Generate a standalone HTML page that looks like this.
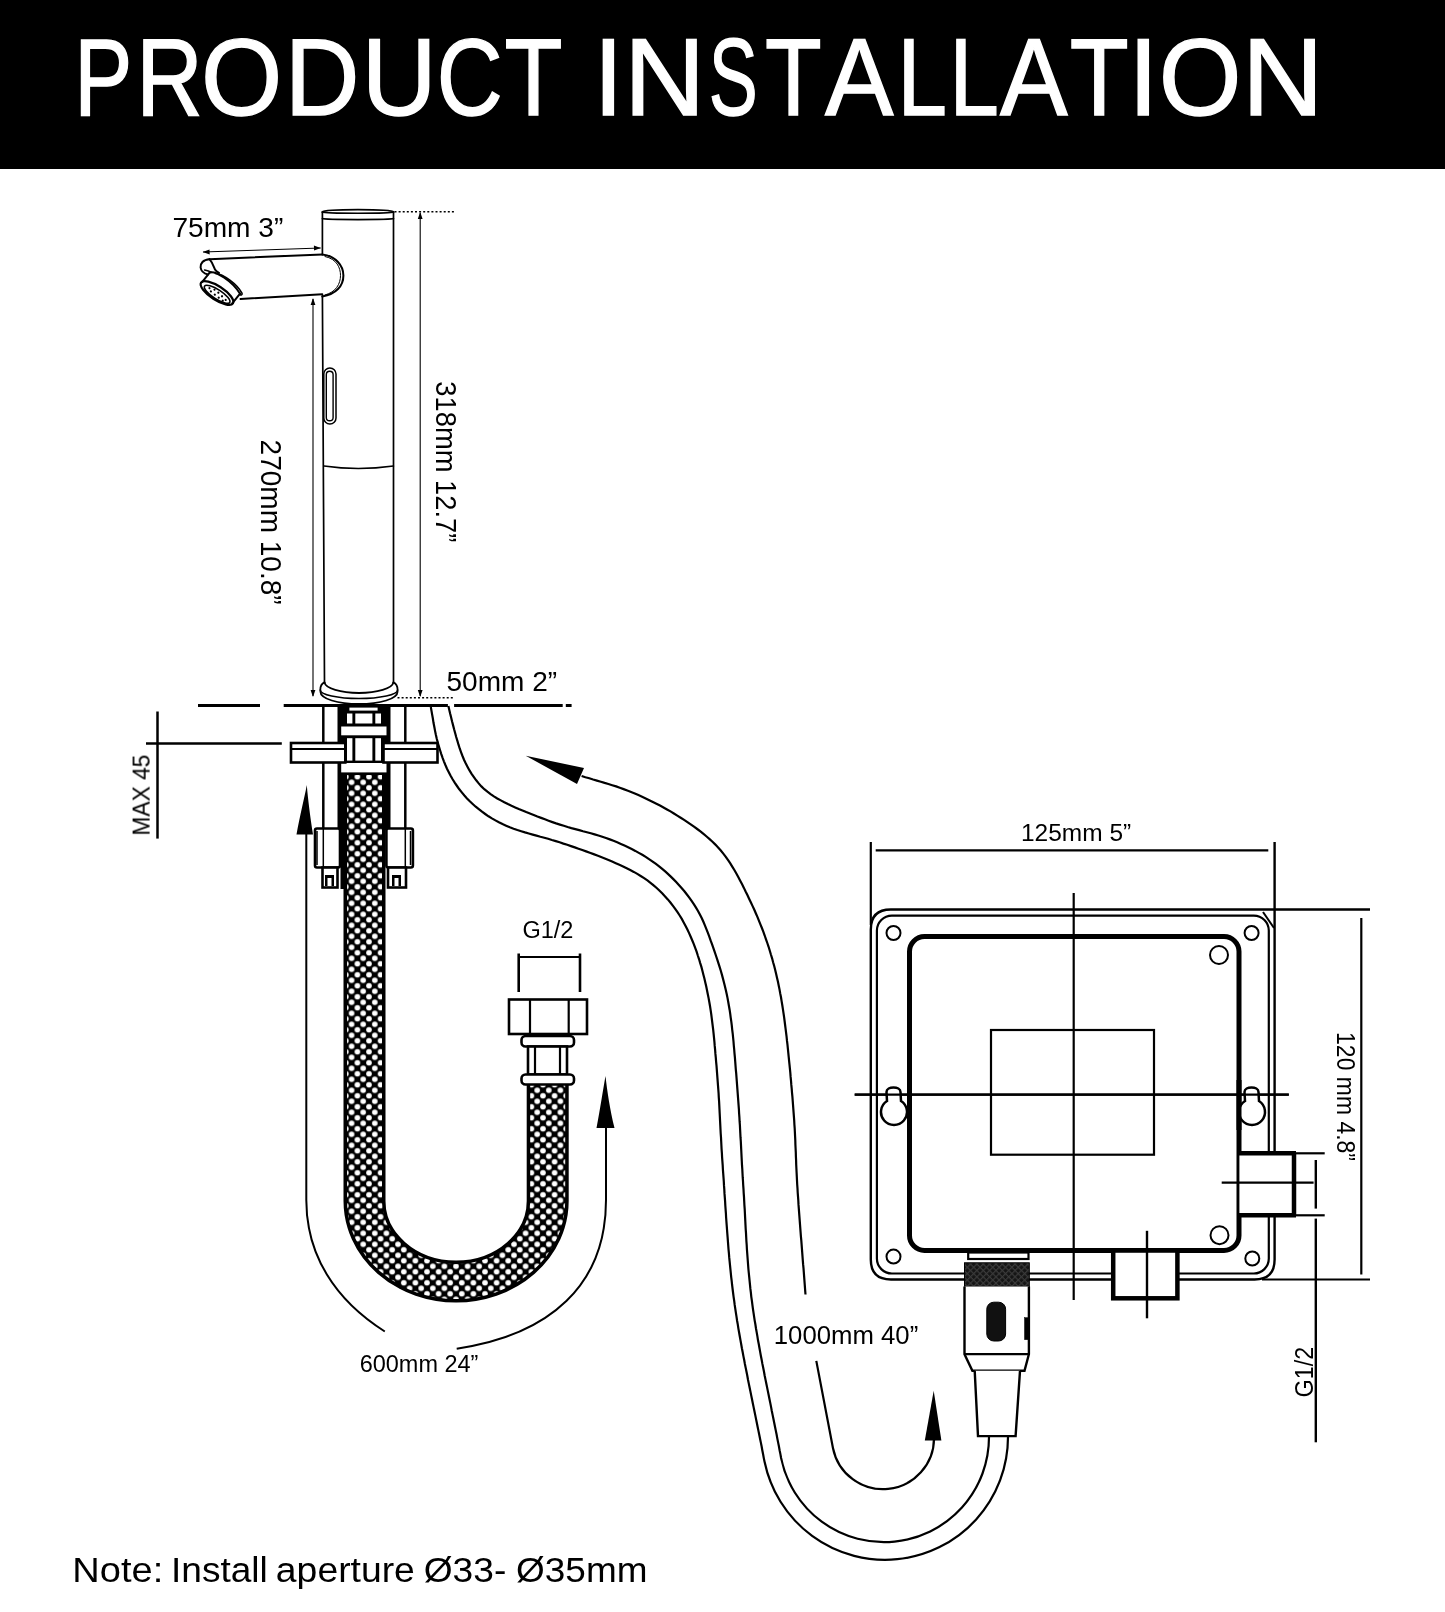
<!DOCTYPE html>
<html><head><meta charset="utf-8"><title>Product Installation</title>
<style>
html,body{margin:0;padding:0;background:#fff;width:1445px;height:1612px;overflow:hidden}
svg{display:block;will-change:transform}
text{font-family:"Liberation Sans",sans-serif;fill:#000}
</style></head><body>
<svg width="1445" height="1612" viewBox="0 0 1445 1612">
<defs>
<pattern id="braid" patternUnits="userSpaceOnUse" width="11.6" height="11" x="351.6" y="958.3">
<rect width="11.6" height="11" fill="#000"/>
<circle cx="0" cy="0" r="2.8" fill="#fff"/><circle cx="11.6" cy="0" r="2.8" fill="#fff"/>
<circle cx="0" cy="11" r="2.8" fill="#fff"/><circle cx="11.6" cy="11" r="2.8" fill="#fff"/>
<circle cx="5.8" cy="5.5" r="2.8" fill="#fff"/>
</pattern>
<pattern id="knurl" patternUnits="userSpaceOnUse" width="4.5" height="4.5" patternTransform="rotate(45)">
<rect width="4.5" height="4.5" fill="#151515"/><rect x="0" y="0" width="1.2" height="4.5" fill="#3a3a3a"/><rect x="0" y="0" width="4.5" height="1.2" fill="#3a3a3a"/>
</pattern>
</defs>

<!-- HEADER -->
<rect x="0" y="0" width="1445" height="169" fill="#000"/>
<g id="title" font-size="109.6"><text style="fill:#fff;stroke:#fff;stroke-width:1.4" x="74.36" y="115" textLength="58.02" lengthAdjust="spacingAndGlyphs">P</text><text style="fill:#fff;stroke:#fff;stroke-width:1.4" x="136.14" y="115" textLength="66.53" lengthAdjust="spacingAndGlyphs">R</text><text style="fill:#fff;stroke:#fff;stroke-width:1.4" x="201.05" y="115" textLength="81.25" lengthAdjust="spacingAndGlyphs">O</text><text style="fill:#fff;stroke:#fff;stroke-width:1.4" x="284.71" y="115" textLength="74.74" lengthAdjust="spacingAndGlyphs">D</text><text style="fill:#fff;stroke:#fff;stroke-width:1.4" x="361.70" y="115" textLength="74.90" lengthAdjust="spacingAndGlyphs">U</text><text style="fill:#fff;stroke:#fff;stroke-width:1.4" x="436.77" y="115" textLength="65.91" lengthAdjust="spacingAndGlyphs">C</text><text style="fill:#fff;stroke:#fff;stroke-width:1.4" x="504.57" y="115" textLength="58.01" lengthAdjust="spacingAndGlyphs">T</text><text style="fill:#fff;stroke:#fff;stroke-width:1.4" x="593.40" y="115" textLength="29.79" lengthAdjust="spacingAndGlyphs">I</text><text style="fill:#fff;stroke:#fff;stroke-width:1.4" x="623.96" y="115" textLength="81.32" lengthAdjust="spacingAndGlyphs">N</text><text style="fill:#fff;stroke:#fff;stroke-width:1.4" x="708.66" y="115" textLength="49.01" lengthAdjust="spacingAndGlyphs">S</text><text style="fill:#fff;stroke:#fff;stroke-width:1.4" x="765.01" y="115" textLength="56.72" lengthAdjust="spacingAndGlyphs">T</text><text style="fill:#fff;stroke:#fff;stroke-width:1.4" x="825.00" y="115" textLength="68.50" lengthAdjust="spacingAndGlyphs">A</text><text style="fill:#fff;stroke:#fff;stroke-width:1.4" x="897.41" y="115" textLength="49.44" lengthAdjust="spacingAndGlyphs">L</text><text style="fill:#fff;stroke:#fff;stroke-width:1.4" x="949.43" y="115" textLength="49.32" lengthAdjust="spacingAndGlyphs">L</text><text style="fill:#fff;stroke:#fff;stroke-width:1.4" x="1000.10" y="115" textLength="67.60" lengthAdjust="spacingAndGlyphs">A</text><text style="fill:#fff;stroke:#fff;stroke-width:1.4" x="1069.83" y="115" textLength="58.98" lengthAdjust="spacingAndGlyphs">T</text><text style="fill:#fff;stroke:#fff;stroke-width:1.4" x="1128.21" y="115" textLength="30.09" lengthAdjust="spacingAndGlyphs">I</text><text style="fill:#fff;stroke:#fff;stroke-width:1.4" x="1158.66" y="115" textLength="82.73" lengthAdjust="spacingAndGlyphs">O</text><text style="fill:#fff;stroke:#fff;stroke-width:1.4" x="1241.95" y="115" textLength="81.45" lengthAdjust="spacingAndGlyphs">N</text></g>

<!-- FAUCET -->
<g id="faucet" fill="none" stroke="#000" stroke-width="2" stroke-linecap="round" stroke-linejoin="round">
<!-- top rim -->
<path d="M322.4 212 A35.6 2.5 0 0 1 393.5 212" stroke-width="1.8"/>
<path d="M322.4 212 A35.6 1.3 0 0 0 393.5 212" stroke-width="1.6"/>
<path d="M322.4 218.6 A35.6 1 0 0 0 393.5 218.6" stroke-width="1.7"/>
<!-- body -->
<path d="M322.4 212 V254.4" stroke-width="1.7"/>
<path d="M322.4 295 L324.5 682.4" stroke-width="1.7"/>
<path d="M393.5 212 V682.4" stroke-width="1.7"/>
<!-- divider -->
<path d="M324 466 Q358 471 393.5 466" stroke-width="1.5"/>
<!-- sensor slot -->
<rect x="323.8" y="368" width="12.2" height="56" rx="6.1" stroke-width="1.5"/>
<rect x="326.3" y="371.3" width="6.8" height="49.5" rx="3.4" stroke-width="1.4"/>
<!-- base -->
<path d="M324.5 682.4 C320.5 684 320.3 687 320.3 690 L320.5 692 A38.5 12 0 0 0 397.5 692 L397.6 690 C397.6 687 397 684 393.4 682.4" stroke-width="1.8"/>
<path d="M324.5 682.4 A34.5 11.2 0 0 0 393.4 682.4" stroke-width="1.8"/>
<path d="M320.3 690 A38.65 8.6 0 0 0 397.6 690" stroke-width="1.5"/>
<!-- spout -->
<path d="M209.5 259.2 L322.3 254.4"/>
<path d="M240.5 299 L322.3 294.3"/>
<path d="M322.3 254.4 C336 256 343.4 266 343.4 275.4 C343.4 286 336 294 322.3 296.5"/>
<path d="M325 256.5 C337 259 340.5 268 340.5 275.4 C340.5 284 336 292 325 295" stroke-width="1"/>
<!-- spout tip cap -->
<path d="M209.5 259.2 C203 259.5 200.2 263.5 200.6 267.5 C201 271 204 273.5 208 274.5" stroke-width="2"/>
<path d="M209.5 259.2 C212.5 262.5 213.8 266.5 215 269.5 C216 271.2 217.5 272 219 272.8" stroke-width="2"/>
<path d="M204.6 270 C207 270.5 209.5 271.3 211.6 272.4" stroke-width="1.6"/>
<!-- aerator -->
<g transform="translate(217 293) rotate(33)">
<path d="M-18.5 -1 L-17.3 -13.2" stroke-width="2"/>
<path d="M18.5 0.5 L19.7 -12" stroke-width="2"/>
<path d="M-17.3 -13.2 C-14 -18 6 -18.5 19.7 -12" stroke-width="2"/>
<path d="M-12 -15.5 C-5 -19.5 12 -18.5 21 -13.5 C22.5 -12.5 21.5 -11 20 -11" stroke-width="1.6"/>
<ellipse cx="0" cy="0" rx="19" ry="6.8" stroke-width="2.2"/>
<ellipse cx="0.8" cy="1" rx="15" ry="4.6" stroke-width="1.6"/>
<g fill="#000" stroke="none">
<circle cx="-9" cy="0" r="1.1"/><circle cx="-4" cy="-1.5" r="1.1"/><circle cx="1" cy="-1" r="1.1"/><circle cx="6" cy="0" r="1.1"/><circle cx="11" cy="1" r="1.1"/>
<circle cx="-6" cy="2" r="1.1"/><circle cx="-1" cy="2.5" r="1.1"/><circle cx="4" cy="3" r="1.1"/><circle cx="9" cy="3.3" r="1.1"/>
</g>
</g>
</g>

<!-- dimension lines faucet -->
<g stroke="#000" fill="none" stroke-width="1.1">
<path d="M394.5 211.8 H454" stroke-dasharray="2 2.1" stroke-width="1.6"/>
<path d="M397.5 697.7 H453.7" stroke-dasharray="2 2.1" stroke-width="1.6"/>
<path d="M420.2 213 V696"/>
<path d="M313 299 V696"/>
<path d="M203 252 L320.7 248"/>
</g>
<g fill="#000">
<path d="M420.2 212 L417.8 219 L422.6 219 Z"/>
<path d="M420.2 697 L417.8 690 L422.6 690 Z"/>
<path d="M313 298 L310.6 305 L315.4 305 Z"/>
<path d="M313 697 L310.6 690 L315.4 690 Z"/>
<path d="M202.7 252 L209.5 249.6 L209.7 254.4 Z"/>
<path d="M320.7 248 L313.9 245.6 L314.1 250.4 Z"/>
</g>

<!-- countertop dash line -->
<g stroke="#000" stroke-width="3">
<path d="M198 705.5 H260"/>
<path d="M283.7 705.5 H447.9"/>
<path d="M454.1 705.5 H562.7"/>
<path d="M565.8 705.5 H571.6"/>
</g>

<!-- MAX 45 bracket -->
<g stroke="#000" stroke-width="2.5">
<path d="M157.5 711.5 V838.6"/>
<path d="M146 743.5 H281.8"/>
</g>

<!-- MOUNT ASSEMBLY -->
<g id="mount">
<!-- central black column -->
<rect x="337.5" y="706" width="53" height="124" fill="#000"/>
<rect x="349.4" y="707.6" width="28.2" height="3" fill="#fff"/>
<rect x="347" y="713.5" width="5.4" height="10" fill="#fff"/>
<rect x="355.3" y="713.5" width="17.1" height="10" fill="#fff"/>
<rect x="375.3" y="713.5" width="5.7" height="10" fill="#fff"/>
<rect x="341.2" y="726.5" width="45.3" height="8.8" fill="#fff"/>
<rect x="347" y="738.2" width="5.4" height="22.4" fill="#fff"/>
<rect x="355.3" y="738.2" width="17.1" height="22.4" fill="#fff"/>
<rect x="375.3" y="738.2" width="5.7" height="22.4" fill="#fff"/>
<rect x="341.2" y="763" width="45.3" height="9.4" fill="#fff"/>
<rect x="347" y="775" width="35" height="60" fill="url(#braid)"/>
<!-- rods -->
<g stroke="#000" stroke-width="2.5" fill="none">
<path d="M323.3 706 V828"/>
<path d="M405.3 706 V828"/>
</g>
<!-- plates -->
<g stroke="#000" stroke-width="2.6" fill="#fff">
<rect x="291" y="743" width="54.3" height="19.5"/>
<rect x="383.5" y="743" width="54" height="19.5"/>
</g>
<g stroke="#000" stroke-width="2.2">
<path d="M291 749 H345"/>
<path d="M384 749 H437"/>
</g>
<!-- nuts -->
<g stroke="#000" stroke-width="2.6" fill="#fff">
<rect x="315" y="828.5" width="25" height="39" rx="2"/>
<rect x="386.4" y="828.5" width="26.5" height="39" rx="2"/>
<rect x="322.5" y="867.5" width="15" height="20"/>
<rect x="388" y="867.5" width="18" height="20"/>
</g>
<g stroke="#000" stroke-width="1.5" fill="none">
<path d="M317 831 V865"/>
<path d="M410.5 831 V865"/>
<path d="M323.3 829 V867"/>
<path d="M405.3 829 V867"/>
</g>
<rect x="340.5" y="829" width="4" height="60" fill="#000"/>
<g fill="#000">
<path d="M325 886 V875 H334 V886 H331.5 V878 H327.5 V886 Z"/>
<path d="M392 886 V875 H401 V886 H398.5 V878 H394.5 V886 Z"/>
</g>
</g>

<!-- BRAIDED HOSE -->
<path d="M364.5 775 V1201 A91.6 80.5 0 0 0 547.7 1201 V1085" fill="none" stroke="#000" stroke-width="42"/>
<path d="M364.5 775 V1201 A91.6 80.5 0 0 0 547.7 1201 V1085" fill="none" stroke="url(#braid)" stroke-width="35"/>

<!-- hose fitting right -->
<g stroke="#000" stroke-width="2.6" fill="#fff">
<rect x="509" y="999.5" width="78" height="34.5"/>
<rect x="521.5" y="1036" width="52.5" height="10.5" rx="4"/>
<rect x="528" y="1046.5" width="39" height="28"/>
<rect x="521.5" y="1074.5" width="52.5" height="10" rx="4"/>
</g>
<g stroke="#000" stroke-width="2.2">
<path d="M530 1000 V1034"/>
<path d="M568.7 1000 V1034"/>
<path d="M535 1047 V1074"/>
<path d="M560 1047 V1074"/>
</g>
<!-- G1/2 bracket top -->
<g stroke="#000" stroke-width="2.6">
<path d="M518.7 953.5 V992"/>
<path d="M580 953.5 V992"/>
<path d="M518.7 957 H580" stroke-width="2"/>
</g>

<!-- 600mm arcs -->
<g stroke="#000" stroke-width="2" fill="none">
<path d="M306.3 830 V1200 C306.3 1255 335 1300 384.8 1331.5"/>
<path d="M606 1125 V1200 C606 1285 550 1335 456.7 1348.7"/>
</g>
<g fill="#000">
<path d="M306.8 785 C308 800 310 815 313 834.6 L296.5 834.6 C300 815 304 800 306.8 785 Z"/>
<path d="M605.5 1076 C607 1090 610 1110 614.5 1128 L596.5 1128 C600 1110 603 1090 605.5 1076 Z"/>
</g>

<!-- SENSOR CABLE -->
<g stroke="#000" stroke-width="2.2" fill="none">
<path d="M430.8 707.0 L431.5 710.9 L432.2 714.9 L432.9 718.8 L433.5 722.8 L434.3 726.7 L435.0 730.6 L435.8 734.5 L436.7 738.4 L437.7 742.3 L438.8 746.2 L440.0 750.0 L441.2 753.8 L442.5 757.6 L443.9 761.3 L445.4 765.0 L447.0 768.7 L448.8 772.3 L450.6 775.8 L452.6 779.3 L454.7 782.7 L457.0 786.0 L459.3 789.3 L461.8 792.4 L464.4 795.5 L467.0 798.4 L469.8 801.3 L472.7 804.0 L475.7 806.7 L478.8 809.2 L482.0 811.7 L485.2 814.0 L488.5 816.3 L491.9 818.4 L495.4 820.4 L498.9 822.3 L502.5 824.1 L506.1 825.7 L509.8 827.3 L513.6 828.7 L517.4 830.0 L521.2 831.2 L525.0 832.4 L528.8 833.5 L532.7 834.6 L536.5 835.6 L540.4 836.7 L544.3 837.7 L548.1 838.8 L551.9 840.0 L555.8 841.1 L559.6 842.3 L563.4 843.6 L567.2 844.8 L571.0 846.1 L574.8 847.4 L578.5 848.7 L582.3 850.0 L586.1 851.4 L589.8 852.7 L593.6 854.1 L597.3 855.5 L601.1 857.0 L604.8 858.5 L608.5 860.0 L612.1 861.6 L615.8 863.2 L619.4 864.8 L623.1 866.5 L626.7 868.3 L630.2 870.1 L633.8 871.9 L637.3 873.9 L640.7 876.0 L644.1 878.1 L647.4 880.4 L650.5 882.8 L653.6 885.3 L656.7 888.0 L659.6 890.7 L662.4 893.5 L665.1 896.4 L667.8 899.4 L670.4 902.5 L672.8 905.7 L675.2 908.9 L677.5 912.2 L679.7 915.5 L681.8 918.9 L683.7 922.4 L685.6 925.9 L687.4 929.5 L689.1 933.1 L690.7 936.8 L692.3 940.5 L693.8 944.2 L695.2 947.9 L696.6 951.7 L697.8 955.5 L699.1 959.3 L700.2 963.1 L701.4 966.9 L702.4 970.8 L703.4 974.7 L704.4 978.5 L705.3 982.4 L706.2 986.3 L707.0 990.3 L707.8 994.2 L708.6 998.1 L709.3 1002.0 L710.0 1006.0 L710.6 1009.9 L711.2 1013.9 L711.7 1017.9 L712.2 1021.8 L712.7 1025.8 L713.2 1029.8 L713.6 1033.7 L714.0 1037.7 L714.4 1041.7 L714.7 1045.7 L715.1 1049.7 L715.4 1053.7 L715.8 1057.6 L716.1 1061.6 L716.5 1065.6 L716.8 1069.6 L717.1 1073.6 L717.4 1077.6 L717.7 1081.6 L718.0 1085.6 L718.3 1089.5 L718.6 1093.5 L718.8 1097.5 L719.1 1101.5 L719.3 1105.5 L719.5 1109.5 L719.7 1113.5 L719.9 1117.5 L720.1 1121.5 L720.3 1125.5 L720.5 1129.5 L720.7 1133.5 L721.0 1137.5 L721.2 1141.5 L721.4 1145.5 L721.6 1149.4 L721.9 1153.4 L722.1 1157.4 L722.4 1161.4 L722.7 1165.4 L722.9 1169.4 L723.2 1173.4 L723.5 1177.4 L723.8 1181.4 L724.0 1185.4 L724.3 1189.4 L724.5 1193.4 L724.8 1197.3 L725.1 1201.3 L725.3 1205.3 L725.6 1209.3 L725.9 1213.3 L726.1 1217.3 L726.4 1221.3 L726.7 1225.3 L727.0 1229.3 L727.3 1233.3 L727.6 1237.2 L727.9 1241.2 L728.2 1245.2 L728.5 1249.2 L728.9 1253.2 L729.2 1257.2 L729.6 1261.2 L730.0 1265.1 L730.4 1269.1 L730.8 1273.1 L731.2 1277.1 L731.7 1281.1 L732.1 1285.0 L732.6 1289.0 L733.1 1293.0 L733.6 1296.9 L734.2 1300.9 L734.7 1304.9 L735.3 1308.8 L735.9 1312.8 L736.5 1316.7 L737.1 1320.7 L737.8 1324.6 L738.4 1328.6 L739.1 1332.5 L739.8 1336.5 L740.5 1340.4 L741.2 1344.3 L741.9 1348.3 L742.7 1352.2 L743.4 1356.1 L744.2 1360.0 L744.9 1364.0 L745.7 1367.9 L746.5 1371.8 L747.3 1375.7 L748.0 1379.7 L748.8 1383.6 L749.6 1387.5 L750.4 1391.4 L751.2 1395.4 L752.0 1399.3 L752.8 1403.2 L753.6 1407.1 L754.4 1411.0 L755.2 1414.9 L756.0 1418.9 L756.8 1422.8 L757.6 1426.7 L758.4 1430.6 L759.2 1434.5 L760.0 1438.5 L760.8 1442.4 L761.6 1446.3 L762.3 1450.2 L763.1 1454.2 L763.8 1458.1 L764.5 1461.5 A123 123 0 0 0 1008 1437"/>
<path d="M448.4 706.0 L449.3 709.9 L450.2 713.8 L451.2 717.7 L452.1 721.6 L453.1 725.4 L454.1 729.3 L455.2 733.2 L456.2 737.0 L457.4 740.9 L458.5 744.7 L459.7 748.5 L461.1 752.3 L462.5 756.0 L464.0 759.7 L465.7 763.3 L467.6 766.9 L469.5 770.4 L471.6 773.8 L473.9 777.1 L476.2 780.3 L478.7 783.4 L481.4 786.4 L484.3 789.2 L487.4 791.7 L490.6 794.1 L493.9 796.4 L497.3 798.5 L500.8 800.4 L504.3 802.3 L507.9 804.1 L511.5 805.8 L515.2 807.4 L518.8 809.0 L522.5 810.5 L526.2 812.1 L529.9 813.5 L533.7 815.0 L537.4 816.5 L541.1 817.9 L544.9 819.3 L548.6 820.7 L552.4 822.1 L556.1 823.4 L559.9 824.6 L563.8 825.8 L567.6 827.0 L571.4 828.1 L575.3 829.1 L579.2 830.1 L583.0 831.2 L586.9 832.2 L590.8 833.3 L594.6 834.4 L598.4 835.5 L602.3 836.7 L606.0 838.0 L609.8 839.4 L613.5 840.8 L617.2 842.3 L620.9 843.9 L624.5 845.6 L628.1 847.3 L631.7 849.1 L635.3 850.9 L638.8 852.9 L642.3 854.8 L645.7 856.9 L649.0 859.1 L652.3 861.3 L655.6 863.7 L658.8 866.1 L661.9 868.6 L664.9 871.2 L667.9 873.9 L670.8 876.6 L673.6 879.4 L676.4 882.3 L679.1 885.3 L681.8 888.3 L684.4 891.3 L686.9 894.5 L689.3 897.6 L691.6 900.9 L693.8 904.2 L696.0 907.6 L698.0 911.0 L699.9 914.6 L701.7 918.1 L703.4 921.8 L704.9 925.4 L706.4 929.1 L707.9 932.9 L709.3 936.6 L710.6 940.4 L712.0 944.2 L713.3 947.9 L714.6 951.7 L715.9 955.5 L717.2 959.3 L718.4 963.1 L719.6 966.9 L720.8 970.7 L721.9 974.6 L722.9 978.4 L723.9 982.3 L724.9 986.2 L725.8 990.1 L726.7 994.0 L727.5 997.9 L728.2 1001.8 L728.9 1005.8 L729.6 1009.7 L730.2 1013.7 L730.7 1017.6 L731.3 1021.6 L731.8 1025.6 L732.2 1029.6 L732.7 1033.5 L733.1 1037.5 L733.5 1041.5 L733.8 1045.5 L734.2 1049.5 L734.5 1053.4 L734.9 1057.4 L735.2 1061.4 L735.5 1065.4 L735.8 1069.4 L736.2 1073.4 L736.5 1077.4 L736.8 1081.3 L737.1 1085.3 L737.4 1089.3 L737.7 1093.3 L738.0 1097.3 L738.3 1101.3 L738.6 1105.3 L738.9 1109.3 L739.1 1113.3 L739.4 1117.3 L739.6 1121.2 L739.9 1125.2 L740.1 1129.2 L740.3 1133.2 L740.5 1137.2 L740.8 1141.2 L741.0 1145.2 L741.2 1149.2 L741.4 1153.2 L741.6 1157.2 L741.8 1161.2 L742.0 1165.2 L742.3 1169.2 L742.5 1173.2 L742.7 1177.2 L743.0 1181.2 L743.2 1185.1 L743.5 1189.1 L743.7 1193.1 L744.0 1197.1 L744.2 1201.1 L744.4 1205.1 L744.7 1209.1 L744.9 1213.1 L745.1 1217.1 L745.3 1221.1 L745.5 1225.1 L745.7 1229.1 L746.0 1233.1 L746.2 1237.1 L746.4 1241.1 L746.7 1245.0 L746.9 1249.0 L747.2 1253.0 L747.5 1257.0 L747.8 1261.0 L748.1 1265.0 L748.4 1269.0 L748.8 1273.0 L749.2 1276.9 L749.6 1280.9 L750.0 1284.9 L750.4 1288.9 L750.9 1292.9 L751.3 1296.8 L751.9 1300.8 L752.4 1304.8 L752.9 1308.7 L753.5 1312.7 L754.1 1316.6 L754.7 1320.6 L755.4 1324.5 L756.0 1328.5 L756.7 1332.4 L757.4 1336.4 L758.0 1340.3 L758.8 1344.2 L759.5 1348.2 L760.2 1352.1 L760.9 1356.0 L761.7 1360.0 L762.4 1363.9 L763.2 1367.8 L764.0 1371.8 L764.7 1375.7 L765.5 1379.6 L766.3 1383.5 L767.1 1387.4 L767.9 1391.4 L768.7 1395.3 L769.5 1399.2 L770.3 1403.1 L771.1 1407.1 L771.8 1411.0 L772.6 1414.9 L773.4 1418.8 L774.2 1422.7 L775.0 1426.7 L775.8 1430.6 L776.6 1434.5 L777.3 1438.4 L778.1 1442.4 L778.9 1446.3 L779.6 1450.2 L780.4 1454.1 L781.1 1458.0 A105 105 0 0 0 989 1437"/>
</g>

<!-- 1000mm arrow -->
<g stroke="#000" stroke-width="2.2" fill="none">
<path d="M581.6 776.0 L585.4 777.2 L589.3 778.3 L593.1 779.5 L596.9 780.6 L600.8 781.7 L604.6 782.9 L608.4 784.0 L612.2 785.2 L616.1 786.4 L619.8 787.7 L623.6 789.1 L627.3 790.5 L631.1 792.0 L634.8 793.5 L638.4 795.1 L642.1 796.8 L645.7 798.4 L649.3 800.2 L652.9 802.0 L656.4 803.8 L660.0 805.6 L663.5 807.5 L667.0 809.5 L670.5 811.4 L673.9 813.5 L677.3 815.6 L680.7 817.7 L684.1 819.9 L687.4 822.1 L690.7 824.3 L694.0 826.7 L697.2 829.0 L700.4 831.4 L703.5 833.9 L706.6 836.5 L709.6 839.1 L712.5 841.8 L715.4 844.6 L718.1 847.5 L720.8 850.5 L723.3 853.6 L725.8 856.8 L728.1 860.1 L730.3 863.4 L732.4 866.8 L734.5 870.2 L736.5 873.7 L738.4 877.2 L740.2 880.7 L742.1 884.3 L743.9 887.9 L745.6 891.5 L747.4 895.0 L749.1 898.7 L750.8 902.3 L752.5 905.9 L754.2 909.5 L755.8 913.2 L757.4 916.9 L758.9 920.6 L760.4 924.3 L761.9 928.0 L763.3 931.7 L764.7 935.5 L766.0 939.3 L767.3 943.0 L768.6 946.8 L769.8 950.7 L770.9 954.5 L772.1 958.3 L773.1 962.2 L774.2 966.0 L775.2 969.9 L776.1 973.8 L777.0 977.7 L777.9 981.6 L778.7 985.5 L779.5 989.4 L780.2 993.4 L781.0 997.3 L781.6 1001.2 L782.3 1005.2 L782.9 1009.1 L783.5 1013.1 L784.1 1017.1 L784.6 1021.0 L785.1 1025.0 L785.6 1028.9 L786.1 1032.9 L786.6 1036.9 L787.0 1040.9 L787.5 1044.8 L787.9 1048.8 L788.3 1052.8 L788.7 1056.8 L789.1 1060.8 L789.5 1064.7 L789.9 1068.7 L790.3 1072.7 L790.6 1076.7 L791.0 1080.7 L791.3 1084.7 L791.7 1088.6 L792.0 1092.6 L792.4 1096.6 L792.7 1100.6 L793.0 1104.6 L793.3 1108.6 L793.6 1112.6 L793.9 1116.6 L794.2 1120.5 L794.4 1124.5 L794.7 1128.5 L794.9 1132.5 L795.1 1136.5 L795.3 1140.5 L795.4 1144.5 L795.6 1148.5 L795.8 1152.5 L795.9 1156.5 L796.1 1160.5 L796.2 1164.5 L796.4 1168.5 L796.6 1172.5 L796.8 1176.5 L797.0 1180.5 L797.2 1184.5 L797.5 1188.5 L797.7 1192.5 L798.0 1196.4 L798.3 1200.4 L798.5 1204.4 L798.8 1208.4 L799.1 1212.4 L799.4 1216.4 L799.7 1220.4 L800.0 1224.4 L800.3 1228.4 L800.6 1232.3 L800.9 1236.3 L801.3 1240.3 L801.6 1244.3 L801.9 1248.3 L802.2 1252.3 L802.5 1256.3 L802.8 1260.3 L803.1 1264.2 L803.5 1268.2 L803.8 1272.2 L804.1 1276.2 L804.4 1280.2 L804.7 1284.2 L805.0 1288.2 L805.3 1292.2 L805.5 1294.5"/>
<path d="M816.3 1360.9 L833 1448.2 A51 51 0 0 0 934 1438 L934 1441"/>
</g>
<g fill="#000">
<path d="M525.7 755.7 L584 768 L577 784 Z"/>
<path d="M933.7 1390.8 L941.4 1440.6 L924.8 1440.6 Z"/>
</g>

<!-- CONTROL BOX -->
<g id="box" fill="none" stroke="#000">
<!-- 125mm bracket -->
<path d="M870.8 842 V925" stroke-width="2.2"/>
<path d="M875.7 850.4 H1268.3" stroke-width="2.2"/>
<!-- outer plate -->
<path d="M1274.6 842 V1259.5 Q1274.6 1279.5 1254.6 1279.5 H891 Q870.8 1279.5 870.8 1259.5 V929.5 Q870.8 909.5 890.8 909.5 H1370" stroke-width="2.4"/>
<rect x="876.9" y="915.6" width="391.9" height="357.9" rx="15" stroke-width="2.2"/>
<path d="M1263 912 L1274 928" stroke-width="2"/>
<!-- 120mm extension -->
<path d="M1262 1279.5 H1370" stroke-width="2.2"/>
<path d="M1361.3 918 V1274.5" stroke-width="2.2"/>
<!-- inner box -->
<rect x="909.5" y="936.5" width="329.5" height="314" rx="15" stroke-width="5"/>
<!-- square -->
<rect x="991" y="1030" width="163" height="124.7" stroke-width="2.2"/>
<!-- crosshair -->
<path d="M1073.7 893 V1300" stroke-width="2.2"/>
<path d="M854.7 1094.6 H1288.8" stroke-width="2.2"/>
<!-- holes -->
<g stroke-width="2">
<circle cx="893.5" cy="933" r="7"/>
<circle cx="1251.6" cy="933" r="7"/>
<circle cx="1219" cy="955" r="9"/>
<circle cx="893.5" cy="1256.6" r="7"/>
<circle cx="1252.3" cy="1258.5" r="7"/>
<circle cx="1219.5" cy="1235.2" r="9"/>
</g>
<!-- keyholes -->
<g stroke-width="2.5" fill="#fff">
<path d="M887 1101 L886.5 1092 C886.5 1086 900.5 1086 900.5 1092 L901 1101 A13 13 0 1 1 887 1101 Z"/>
<path d="M1245 1101 L1244.5 1092 C1244.5 1086 1258.5 1086 1258.5 1092 L1259 1101 A13 13 0 1 1 1245 1101 Z"/>
</g>
<path d="M854.7 1094.6 H1288.8" stroke-width="2.2"/>
<path d="M909.5 1080 V1130" stroke-width="5"/>
<path d="M1239 1080 V1130" stroke-width="5"/>
<!-- right fitting -->
<rect x="1238.3" y="1153.3" width="56" height="62" fill="#fff" stroke-width="2.2"/>
<path d="M1238 1153.3 H1296" stroke-width="4.5"/>
<path d="M1238 1215.3 H1296" stroke-width="4.5"/>
<path d="M1294 1153 V1215.5" stroke-width="4.5"/>
<path d="M1221.7 1182.7 H1313.6" stroke-width="2.2"/>
<path d="M1296 1153.3 H1324.7" stroke-width="2.2"/>
<path d="M1296 1215.3 H1324.7" stroke-width="2.2"/>
<path d="M1315.8 1160 V1208.6" stroke-width="2.4"/>
<path d="M1315.8 1218.6 V1442.3" stroke-width="2.4"/>
<!-- bottom fitting -->
<rect x="1113.2" y="1250.3" width="64.2" height="48" fill="#fff" stroke-width="4.5"/>
<path d="M1147 1230.8 V1318.3" stroke-width="2.4"/>
</g>
<!-- redraw inner box bottom line over fitting -->
<path d="M1105 1250.3 H1185" stroke="#000" stroke-width="4.5"/>

<!-- CONNECTOR -->
<g stroke="#000" fill="#fff">
<rect x="968.2" y="1252.5" width="60.3" height="6.5" stroke-width="2.2"/>
<rect x="964.5" y="1262.8" width="64.8" height="23.7" fill="url(#knurl)" stroke-width="1"/>
<path d="M964.5 1286.5 V1354.2 L972.4 1370.8 H1024.5 L1028.9 1354.2 V1286.5" stroke-width="2.4"/>
<path d="M964.5 1354.2 H1028.9" stroke-width="2.2"/>
<path d="M974.7 1370.8 L978 1436.1 H1015.6 L1020 1370.8" stroke-width="2.4"/>
<rect x="986.8" y="1302.2" width="18.8" height="38.8" rx="7" fill="#111" stroke-width="1"/>
<rect x="1024.5" y="1317.7" width="4.4" height="22" fill="#000" stroke-width="0.5"/>
</g>

<!-- TEXTS -->
<text x="172.4" y="237" font-size="27.5" textLength="111" lengthAdjust="spacingAndGlyphs">75mm 3”</text>
<text x="446.5" y="690.5" font-size="27" textLength="110.6" lengthAdjust="spacingAndGlyphs">50mm 2”</text>
<text transform="translate(260.6 439.6) rotate(90)" font-size="29.5" textLength="165" lengthAdjust="spacingAndGlyphs">270mm 10.8”</text>
<text transform="translate(435.6 381.3) rotate(90)" font-size="29.5" textLength="161" lengthAdjust="spacingAndGlyphs">318mm 12.7”</text>
<text transform="translate(149.6 835.6) rotate(-90)" font-size="24" textLength="81" lengthAdjust="spacingAndGlyphs">MAX 45</text>
<text x="522.4" y="938.3" font-size="23" textLength="51" lengthAdjust="spacingAndGlyphs">G1/2</text>
<text x="359.7" y="1372.2" font-size="24.5" textLength="118.7" lengthAdjust="spacingAndGlyphs">600mm 24”</text>
<text x="773.8" y="1344" font-size="25.5" textLength="144.4" lengthAdjust="spacingAndGlyphs">1000mm 40”</text>
<text x="1021" y="841.3" font-size="24" textLength="110.2" lengthAdjust="spacingAndGlyphs">125mm 5”</text>
<text transform="translate(1336.5 1032.1) rotate(90)" font-size="25" textLength="128.9" lengthAdjust="spacingAndGlyphs">120 mm 4.8”</text>
<text transform="translate(1312.5 1397.4) rotate(-90)" font-size="26" textLength="50.6" lengthAdjust="spacingAndGlyphs">G1/2</text>
<text x="72.37" y="1581.5" font-size="35.3" textLength="90.87" lengthAdjust="spacingAndGlyphs">Note:</text>
<text x="171.05" y="1581.5" font-size="35.3" textLength="96.78" lengthAdjust="spacingAndGlyphs">Install</text>
<text x="275.89" y="1581.5" font-size="35.3" textLength="138.97" lengthAdjust="spacingAndGlyphs">aperture</text>
<text x="423.70" y="1581.5" font-size="35.3" textLength="82.57" lengthAdjust="spacingAndGlyphs">Ø33-</text>
<text x="516.11" y="1581.5" font-size="35.3" textLength="131.34" lengthAdjust="spacingAndGlyphs">Ø35mm</text>
</svg>
</body></html>
